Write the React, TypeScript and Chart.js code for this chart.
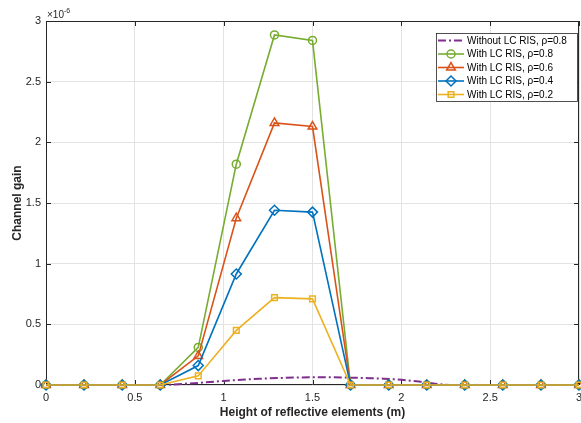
import React, { useEffect, useRef } from 'react';
import { Chart, registerables } from 'chart.js';
import { drawPoint } from 'chart.js/helpers';

Chart.register(...registerables);

// Heights of reflective elements (m)
const heights = [0, 0.214, 0.429, 0.643, 0.857, 1.071, 1.286, 1.5, 1.714, 1.929, 2.143, 2.357, 2.571, 2.786, 3];
// Channel gain values (x 1e-6)
const gainRho08 = [0, 0, 0, 0, 0.31, 1.82, 2.885, 2.84, 0, 0, 0, 0, 0, 0, 0];
const gainRho06 = [0, 0, 0, 0, 0.24, 1.375, 2.16, 2.13, 0, 0, 0, 0, 0, 0, 0];
const gainRho04 = [0, 0, 0, 0, 0.16, 0.915, 1.44, 1.425, 0, 0, 0, 0, 0, 0, 0];
const gainRho02 = [0, 0, 0, 0, 0.075, 0.45, 0.72, 0.71, 0, 0, 0, 0, 0, 0, 0];

// Without LC RIS (finer sampling)
const noRisHeights = [0, 0.1, 0.2, 0.3, 0.4, 0.5, 0.6, 0.7, 0.8, 0.9, 1.0, 1.1, 1.2, 1.3, 1.4, 1.5, 1.6, 1.7, 1.8, 1.9, 2.0, 2.1, 2.2, 2.3, 2.4, 2.5, 2.6, 2.7, 2.8, 2.9, 3.0];
const noRisGain = [0, 0, 0, 0, 0, 0, 0, 0.003, 0.012, 0.022, 0.033, 0.043, 0.051, 0.057, 0.061, 0.063, 0.063, 0.061, 0.057, 0.052, 0.043, 0.028, 0.008, 0, 0, 0, 0, 0, 0, 0, 0];

const xTicks = [0, 0.5, 1, 1.5, 2, 2.5, 3];
const yTicks = [0, 0.5, 1, 1.5, 2, 2.5, 3];

const legendLabels = [
  'Without LC RIS, \u03c1=0.8',
  'With LC RIS, \u03c1=0.8',
  'With LC RIS, \u03c1=0.6',
  'With LC RIS, \u03c1=0.4',
  'With LC RIS, \u03c1=0.2',
];

const FONT = 'Liberation Sans, Arial, Helvetica, sans-serif';
const AXIS = '#262626';

const toPts = (xs: number[], ys: number[]) => xs.map((x, i) => ({ x, y: ys[i] }));

const framePlugin = {
  id: 'frame',
  beforeDatasetsDraw(chart: any) {
    const { ctx, chartArea: a, scales } = chart;
    ctx.save();
    ctx.strokeStyle = AXIS;
    ctx.lineWidth = 1;
    ctx.beginPath();
    ctx.rect(Math.round(a.left) + 0.5, Math.round(a.top) + 0.5, Math.round(a.right - a.left) - 1, Math.round(a.bottom - a.top) - 1);
    ctx.stroke();
    const tl = 5;
    ctx.beginPath();
    xTicks.forEach((v) => {
      const x = Math.round(scales.x.getPixelForValue(v)) + 0.5;
      ctx.moveTo(x, a.bottom);
      ctx.lineTo(x, a.bottom - tl);
      ctx.moveTo(x, a.top);
      ctx.lineTo(x, a.top + tl);
    });
    yTicks.forEach((v) => {
      const y = Math.round(scales.y.getPixelForValue(v)) + 0.5;
      ctx.moveTo(a.left, y);
      ctx.lineTo(a.left + tl, y);
      ctx.moveTo(a.right, y);
      ctx.lineTo(a.right - tl, y);
    });
    ctx.stroke();
    ctx.restore();
  },
  afterDraw(chart: any) {
    const { ctx, chartArea: a } = chart;
    ctx.save();
    // exponent label
    ctx.fillStyle = AXIS;
    ctx.textBaseline = 'alphabetic';
    ctx.textAlign = 'left';
    ctx.font = `10px ${FONT}`;
    ctx.fillText('\u00d710', a.left + 1, a.top - 3);
    const w = ctx.measureText('\u00d710').width;
    ctx.font = `7px ${FONT}`;
    ctx.fillText('-6', a.left + 1 + w, a.top - 8);

    // legend
    const bx = 436.5, by = 33.5, bw = 141, bh = 68;
    ctx.fillStyle = '#ffffff';
    ctx.fillRect(bx, by, bw, bh);
    ctx.strokeStyle = AXIS;
    ctx.lineWidth = 0.8;
    ctx.strokeRect(bx, by, bw, bh);
    const rows = [40.5, 54, 67.5, 81, 94.5];
    chart.data.datasets.forEach((ds: any, i: number) => {
      const y = rows[i];
      ctx.save();
      ctx.strokeStyle = ds.borderColor;
      ctx.lineWidth = ds.borderWidth;
      ctx.setLineDash(ds.borderDash || []);
      ctx.beginPath();
      ctx.moveTo(438, y);
      ctx.lineTo(464, y);
      ctx.stroke();
      ctx.setLineDash([]);
      if (ds.pointRadius > 0) {
        ctx.fillStyle = 'rgba(0,0,0,0)';
        ctx.strokeStyle = ds.borderColor;
        ctx.lineWidth = ds.pointBorderWidth;
        drawPoint(ctx, { pointStyle: ds.pointStyle, radius: ds.pointRadius, borderWidth: ds.pointBorderWidth, rotation: 0 } as any, 451, y);
      }
      ctx.restore();
      ctx.fillStyle = '#000000';
      ctx.font = `10px ${FONT}`;
      ctx.textBaseline = 'middle';
      ctx.textAlign = 'left';
      ctx.fillText(legendLabels[i], 467, y + 0.5);
    });
    ctx.restore();
  },
};

export default function App() {
  const ref = useRef<HTMLCanvasElement | null>(null);
  useEffect(() => {
    document.body.style.margin = '0';
    const canvas = ref.current!;
    const common = {
      showLine: true,
      borderWidth: 1.6,
      pointBorderWidth: 1.5,
      pointBackgroundColor: 'rgba(0,0,0,0)',
      backgroundColor: 'rgba(0,0,0,0)',
      clip: false as any,
    };
    const chart = new Chart(canvas, {
      type: 'scatter',
      data: {
        datasets: [
          {
            ...common,
            label: legendLabels[0],
            data: toPts(noRisHeights, noRisGain),
            borderColor: '#7E2F8E',
            borderWidth: 2,
            borderDash: [8, 3, 2, 3],
            pointRadius: 0,
            pointHoverRadius: 0,
            cubicInterpolationMode: 'monotone',
            order: 4,
          },
          {
            ...common,
            label: legendLabels[1],
            data: toPts(heights, gainRho08),
            borderColor: '#77AC30',
            pointBorderColor: '#77AC30',
            pointStyle: 'circle',
            pointRadius: 4,
            order: 3,
          },
          {
            ...common,
            label: legendLabels[2],
            data: toPts(heights, gainRho06),
            borderColor: '#D95319',
            pointBorderColor: '#D95319',
            pointStyle: 'triangle',
            pointRadius: 5,
            order: 2,
          },
          {
            ...common,
            label: legendLabels[3],
            data: toPts(heights, gainRho04),
            borderColor: '#0072BD',
            pointBorderColor: '#0072BD',
            pointStyle: 'rectRot',
            pointRadius: 5,
            order: 1,
          },
          {
            ...common,
            label: legendLabels[4],
            data: toPts(heights, gainRho02),
            borderColor: '#EDB120',
            pointBorderColor: '#EDB120',
            pointStyle: 'rect',
            pointRadius: 4,
            order: 0,
          },
        ] as any,
      },
      options: {
        animation: false,
        responsive: false,
        events: [],
        layout: { autoPadding: false, padding: { top: 21, right: 2, left: 0, bottom: 0 } },
        plugins: { legend: { display: false }, tooltip: { enabled: false } },
        scales: {
          x: {
            type: 'linear',
            min: 0,
            max: 3,
            afterBuildTicks: (s: any) => {
              s.ticks = xTicks.map((v) => ({ value: v }));
            },
            afterFit: (s: any) => {
              s.height = 38;
              s.paddingLeft = 0;
              s.paddingRight = 0;
            },
            grid: { color: '#e3e3e3', drawTicks: false, lineWidth: 1 },
            border: { display: false },
            ticks: {
              padding: 6,
              color: AXIS,
              font: { family: FONT, size: 11 },
              maxRotation: 0,
              autoSkip: false,
              callback: (v: any) => String(v),
            },
            title: {
              display: true,
              text: 'Height of reflective elements (m)',
              color: AXIS,
              font: { family: FONT, size: 12, weight: 'bold' },
              padding: { top: 0, bottom: 3 },
            },
          },
          y: {
            type: 'linear',
            min: 0,
            max: 3,
            afterBuildTicks: (s: any) => {
              s.ticks = yTicks.map((v) => ({ value: v }));
            },
            afterFit: (s: any) => {
              s.width = 46;
              s.paddingTop = 0;
              s.paddingBottom = 0;
            },
            grid: { color: '#e3e3e3', drawTicks: false, lineWidth: 1 },
            border: { display: false },
            ticks: {
              padding: 5,
              color: AXIS,
              font: { family: FONT, size: 11 },
              autoSkip: false,
              callback: (v: any) => String(v),
            },
            title: {
              display: true,
              text: 'Channel gain',
              color: AXIS,
              font: { family: FONT, size: 12, weight: 'bold' },
              padding: { top: 10, bottom: 0 },
            },
          },
        },
      } as any,
      plugins: [framePlugin],
    });
    return () => chart.destroy();
  }, []);
  return (
    <div style={{ width: 581, height: 423 }}>
      <canvas ref={ref} width={581} height={423} style={{ display: 'block' }} />
    </div>
  );
}
